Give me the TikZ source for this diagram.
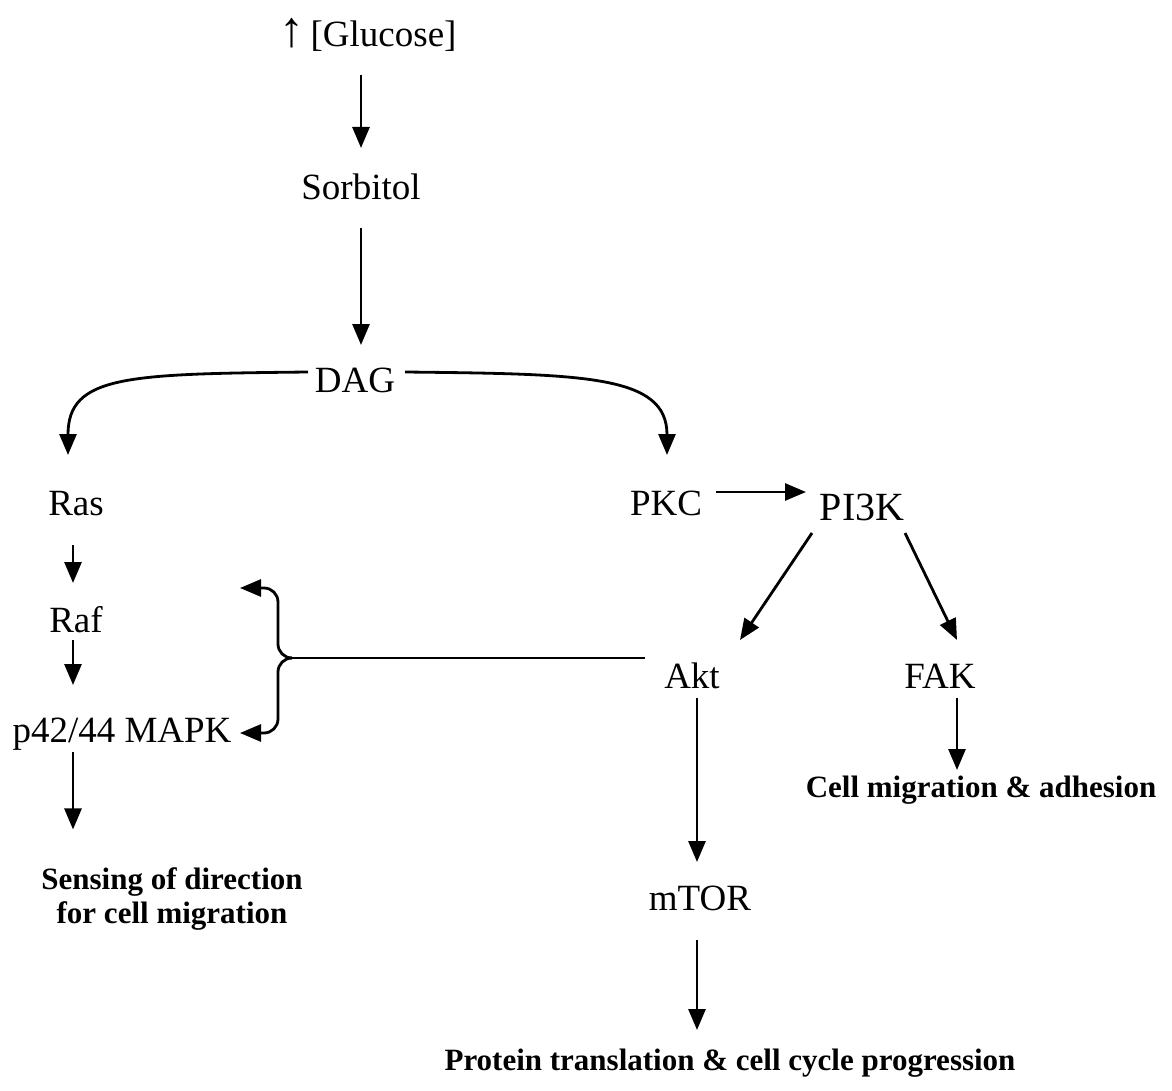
\documentclass[tikz,border=0pt]{standalone}
\usepackage{fontspec}
\setmainfont{Liberation Serif}
\usetikzlibrary{arrows.meta,calc}
\begin{document}
\begin{tikzpicture}[x=1pt,y=-1pt,
  lab/.style={inner sep=0pt, anchor=base, font=\fontsize{37}{44}\selectfont},
  big/.style={lab, font=\fontsize{40}{48}\selectfont},
  res/.style={inner sep=0pt, anchor=base, font=\fontsize{31}{34}\selectfont\bfseries},
  arr/.style={line width=2.8pt, -{Triangle[length=21pt,width=17pt]}},
  link/.style={line width=2.8pt}]
\useasboundingbox (0,0) rectangle (1172,1091);

% molecules
\node[lab] (glu)  at (368,47)  {{\fontsize{50}{50}\selectfont ↑}\,[Glucose]};
\node[lab] (sor)  at (361,200) {Sorbitol};
\node[lab] (dag)  at (355,392) {DAG};
\node[lab] (ras)  at (76,515)  {Ras};
\node[lab] (raf)  at (76,632)  {Raf};
\node[lab] (mapk) at (122,742) {p42/44 MAPK};
\node[lab] (pkc)  at (666,515) {PKC};
\node[big] (pi3k) at (862,520) {PI3K};
\node[lab] (akt)  at (692,688) {Akt};
\node[lab] (fak)  at (940,688) {FAK};
\node[lab] (mtor) at (700,910) {mTOR};

% outcomes
\node[res, align=center, anchor=center] (sens) at (172,899)
  {Sensing of direction\\for cell migration};
\node[res] (cell) at (981,797) {Cell migration \& adhesion};
\node[res] (prot) at (730,1070) {Protein translation \& cell cycle progression};

% main vertical chain
\draw[arr] ($(glu.base -| sor.base)+(0,28)$) -- ($(sor.base)+(0,-52)$);
\draw[arr] ($(sor.base)+(0,28)$) -- ($(dag.base -| sor.base)+(0,-47)$);

% DAG branches
\draw[arr] ($(dag.base)+(-47,-20)$) .. controls +(-180,2) and +(0,-80) ..
  ($(ras.base)+(-8,-60)$);
\draw[arr] ($(dag.base)+(50,-20)$) .. controls +(180,2) and +(0,-80) ..
  ($(pkc.base)+(1,-60)$);

% Ras / Raf / MAPK column
\draw[arr] ($(ras.base)+(-3,30)$) -- ($(raf.base)+(-3,-49)$);
\draw[arr] ($(raf.base)+(-3,8)$) -- ($(mapk.base -| raf.base)+(-3,-57)$);
\draw[arr] ($(mapk.base -| raf.base)+(-3,10)$) -- ($(sens.north -| raf.base)+(-3,-38)$);

% PKC / PI3K branch
\draw[arr] ($(pkc.base)+(50,-23)$) -- ($(pi3k.base)+(-56,-28)$);
\draw[arr] ($(pi3k.base)+(-50,13)$) -- ($(akt.base)+(48,-48)$);
\draw[arr] ($(pi3k.base)+(43,13)$) -- ($(fak.base)+(17,-48)$);
\draw[arr] ($(akt.base)+(5,10)$) -- ($(mtor.base)+(-3,-48)$);
\draw[arr] ($(fak.base)+(17,10)$) -- ($(cell.base -| fak.base)+(17,-27)$);
\draw[arr] ($(mtor.base)+(-3,30)$) -- ($(prot.base -| mtor.base)+(-3,-40)$);

% Akt feedback brace onto Raf and MAPK
\coordinate (brJoin) at (292,658);
\coordinate (brMid)  at (278,658);
\coordinate (brTop)  at (240,588);
\coordinate (brBot)  at (240,733);
\draw[link] ($(akt.base)+(-47,-30)$) -- (brJoin);
\draw[arr, rounded corners=14pt] (brJoin) -- (brMid) -- (brMid |- brTop) -- (brTop);
\draw[arr, rounded corners=14pt] (brJoin) -- (brMid) -- (brMid |- brBot) -- (brBot);
\end{tikzpicture}
\end{document}
